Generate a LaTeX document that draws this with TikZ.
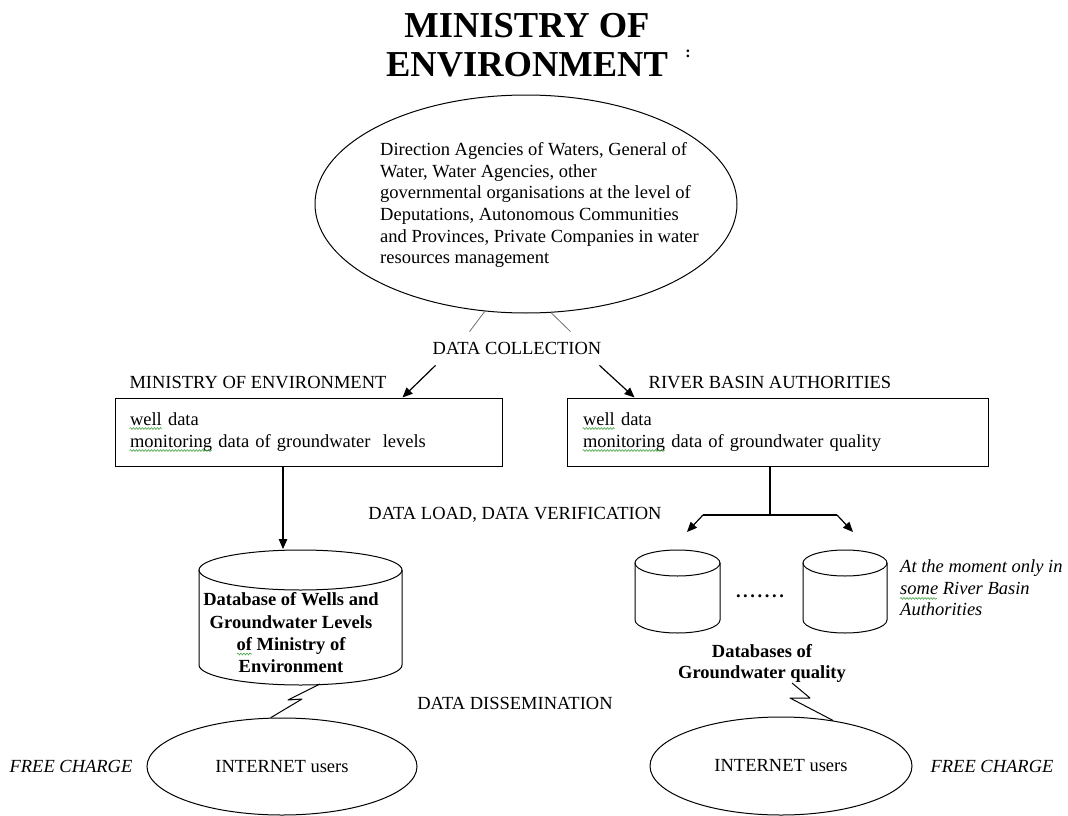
\documentclass[tikz,border=0pt]{standalone}
\usepackage{fontspec}
\setmainfont{Liberation Serif}
\usetikzlibrary{shapes.geometric,arrows.meta,calc,decorations.pathmorphing}
\definecolor{spellgreen}{RGB}{70,165,70}
\definecolor{linkgray}{RGB}{110,110,110}
\begin{document}
\begin{tikzpicture}[x=1pt,y=-1pt,
  plain/.style={inner sep=0pt, font=\fontsize{18.5}{21.6}\selectfont},
  strong/.style={inner sep=0pt, font=\bfseries\fontsize{18.5}{22.3}\selectfont},
  slant/.style={inner sep=0pt, font=\itshape\fontsize{18.5}{21.6}\selectfont},
  frame/.style={draw, line width=1pt},
  arr/.style={line width=1.2pt, -{Triangle[length=10pt,width=8.5pt]}},
  link/.style={draw=linkgray, line width=0.8pt},
  zig/.style={line width=1pt, line join=round},
  cyl/.style={line width=1pt},
  wavy/.style={draw=spellgreen, line width=0.6pt, decorate,
               decoration={snake, amplitude=0.9pt, segment length=3pt}},
]
\useasboundingbox (0,0) rectangle (1068,816);

% heading
\node[inner sep=0pt, align=center, anchor=north,
      font=\bfseries\fontsize{36.5}{39}\selectfont] (title) at (527,13)
  {MINISTRY OF\\ENVIRONMENT};
\node[inner sep=0pt, font=\bfseries\fontsize{16}{16}\selectfont] (mark) at (688,54) {:};

% data providers
\node[frame, ellipse, minimum width=422pt, minimum height=218pt, inner sep=0pt] (src) at (526,204) {};
\node[plain, align=left, anchor=north west] (srctext) at (380,142.4)
  {Direction Agencies of Waters, General of\\
   Water, Water Agencies, other\\
   governmental organisations at the level of\\
   Deputations, Autonomous Communities\\
   and Provinces, Private Companies in water\\
   resources management};

\node[plain] (dc) at (517,348) {DATA COLLECTION};
\draw[link] (src.249.4) -- ($(dc.north west)+(37,-10)$);
\draw[link] (src.283.4) -- ($(dc.north west)+(138,-10)$);

% collecting bodies
\node[plain] (me) at (258,383) {MINISTRY OF ENVIRONMENT};
\node[plain] (rba) at (770,383) {RIVER BASIN AUTHORITIES};

\node[frame, plain, minimum width=387pt, minimum height=68pt, text width=357pt, align=left] (b1) at (308.5,432)
  {well data\\monitoring data of groundwater\ \ levels};
\node[frame, plain, minimum width=421pt, minimum height=68pt, text width=389pt, align=left] (b2) at (777.5,432)
  {well data\\monitoring data of groundwater quality};

% spell-check marks under "well" and "monitoring"
\draw[wavy] ($(b1.north west)+(15,31)$) -- ++(32,0);
\draw[wavy] ($(b1.north west)+(15,53)$) -- ++(82,0);
\draw[wavy] ($(b2.north west)+(16,31)$) -- ++(32,0);
\draw[wavy] ($(b2.north west)+(16,53)$) -- ++(82,0);

\draw[arr] ($(dc.south west)+(3,11)$) -- ($(b1.north east)+(-100,0)$);
\draw[arr] ($(dc.south east)+(-2,11)$) -- ($(b2.north west)+(68,0)$);

% loading and verification
\node[plain] (dl) at (515,515) {DATA LOAD, DATA VERIFICATION};

\coordinate (db1top) at (283,549);
\coordinate (db1bot) at (320,684);
\draw[arr] ($(b1.south)+(-25.5,0)$) -- (db1top);

\coordinate (forkL) at (703,515);
\coordinate (forkR) at (837,515);
\coordinate (q1top) at (687,532);
\coordinate (q2top) at (853,532);
\draw[line width=1.2pt] ($(b2.south)+(-7.5,0)$) -- ++(0,49);
\draw[line width=1.2pt] (forkL) -- (forkR);
\draw[arr] (forkL) -- (q1top);
\draw[arr] (forkR) -- (q2top);

% database of wells and levels
\draw[cyl] (199,570) -- (199,665) arc[start angle=180, end angle=360, x radius=101.5pt, y radius=20pt] -- (402,570);
\draw[cyl] (300.5,570) ellipse[x radius=101.5pt, y radius=20pt];
\node[strong, align=center, anchor=north] (db1) at (291,592.5)
  {Database of Wells and\\Groundwater Levels\\of Ministry of\\Environment};
\draw[wavy] (237,654) -- ++(15,0);

% groundwater quality databases
\draw[cyl] (635,563) -- (635,620) arc[start angle=180, end angle=360, x radius=42.5pt, y radius=13pt] -- (720,563);
\draw[cyl] (677.5,563) ellipse[x radius=42.5pt, y radius=13pt];
\draw[cyl] (803,563) -- (803,620) arc[start angle=180, end angle=360, x radius=42pt, y radius=13pt] -- (887,563);
\draw[cyl] (845,563) ellipse[x radius=42pt, y radius=13pt];
\node[strong] (dots) at (760,596) {\addfontfeatures{LetterSpace=14}.......};
\node[slant, align=left, anchor=north west] (note) at (900,559.4)
  {At the moment only in\\some River Basin\\Authorities};
\draw[wavy] ($(note.north west)+(0,39)$) -- ++(37,0);
\node[strong, align=center, anchor=north, font=\bfseries\fontsize{18.5}{20.5}\selectfont] (dbq) at (762,644.4)
  {Databases of\\Groundwater quality};

% dissemination
\node[plain] (dd) at (515,703) {DATA DISSEMINATION};

\node[frame, ellipse, plain, minimum width=270pt, minimum height=97pt] (iu1) at (282,766.5) {INTERNET users};
\node[frame, ellipse, plain, minimum width=262pt, minimum height=98pt] (iu2) at (781,766) {INTERNET users};
\node[slant] (fc1) at (71,766) {FREE CHARGE};
\node[slant] (fc2) at (992,766) {FREE CHARGE};

\coordinate (q2bot) at (792,683);
\draw[zig] (db1bot) -- (288,700) -- (302,699) -- (iu1.103.6);
\draw[zig] (q2bot) -- (810,698) -- (790,698) -- (iu2.41);
\end{tikzpicture}
\end{document}
